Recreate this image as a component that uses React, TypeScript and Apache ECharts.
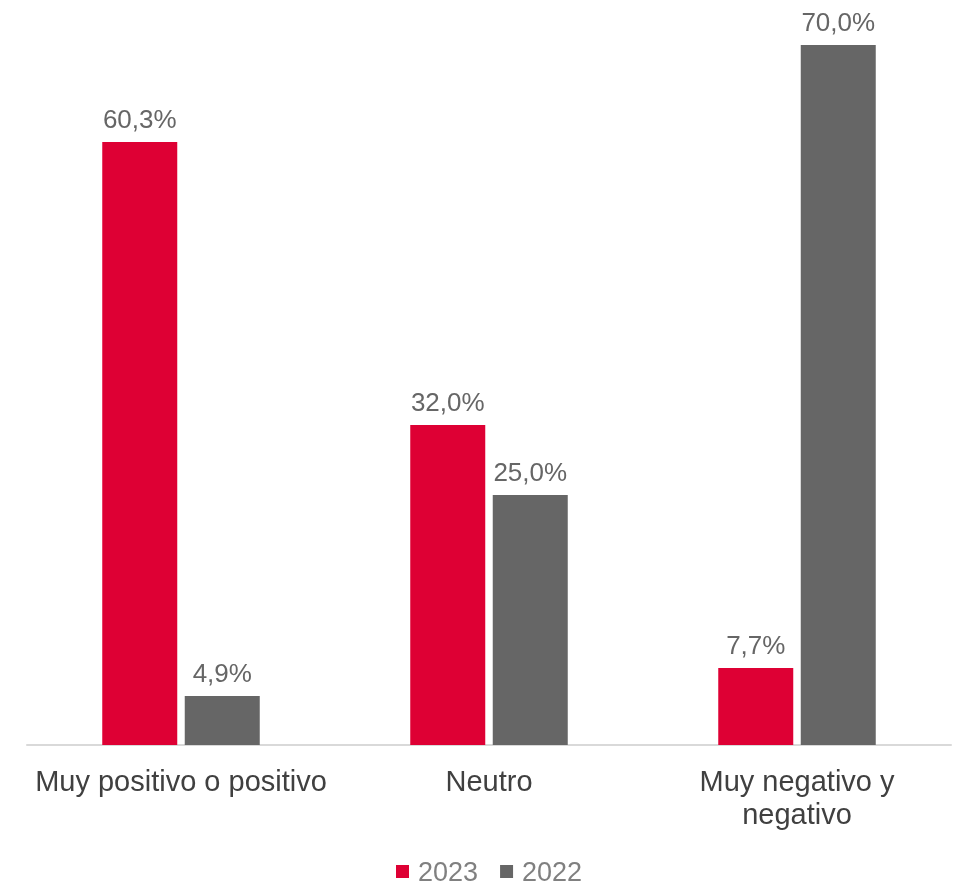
import React, { useEffect, useRef } from "react";
import * as echarts from "echarts";

const categories = ["Muy positivo o positivo", "Neutro", "Muy negativo y\nnegativo"];
const values2023 = [60.3, 32.0, 7.7];
const values2022 = [4.9, 25.0, 70.0];
const seriesNames = ["2023", "2022"];

const FONT = "'Liberation Sans', Arial, sans-serif";

export default function App() {
  const ref = useRef<HTMLDivElement>(null);
  useEffect(() => {
    if (!ref.current) return;
    const chart = echarts.init(ref.current, null, { renderer: "svg" });
    const label = {
      show: true,
      position: "top" as const,
      distance: 10,
      color: "#666666",
      fontSize: 26,
      fontFamily: FONT,
      formatter: (p: any) => p.value.toFixed(1).replace(".", ",") + "%",
    };
    chart.setOption({
      animation: false,
      grid: { left: 27, right: 3, top: 45, bottom: 141, containLabel: false },
      legend: {
        top: 853,
        left: 391,
        itemWidth: 13,
        itemHeight: 13,
        itemGap: 22,
        icon: "rect",
        data: seriesNames,
        textStyle: { fontSize: 27, color: "#808080", fontFamily: FONT, padding: [0, 0, 0, 4] },
      },
      xAxis: {
        type: "category",
        data: categories,
        axisLine: { lineStyle: { color: "#d9d9d9", width: 2 } },
        axisTick: { show: false },
        axisLabel: {
          color: "#404040",
          fontSize: 29,
          fontFamily: FONT,
          margin: 19,
          lineHeight: 33,
          interval: 0,
        },
      },
      yAxis: {
        type: "value",
        min: 0,
        max: 70,
        show: false,
        splitLine: { show: false },
      },
      series: [
        {
          name: seriesNames[0],
          type: "bar",
          data: values2023,
          barWidth: 75,
          barGap: "10%",
          itemStyle: { color: "#de0034" },
          label,
        },
        {
          name: seriesNames[1],
          type: "bar",
          data: values2022,
          barWidth: 75,
          barGap: "10%",
          itemStyle: { color: "#666666" },
          label,
        },
      ],
    });
    return () => chart.dispose();
  }, []);
  return (
    <div
      ref={ref}
      style={{ width: 954, height: 886, position: "fixed", left: 0, top: 0 }}
    />
  );
}
